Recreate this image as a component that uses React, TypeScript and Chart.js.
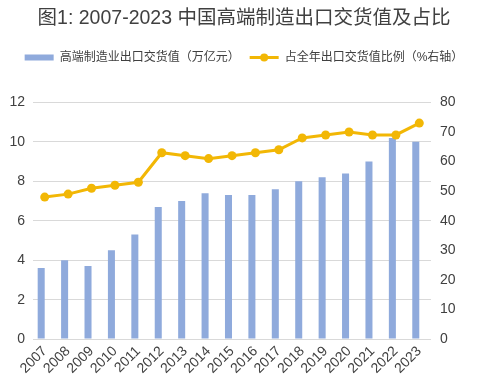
import React, { useEffect, useRef } from "react";
import { Chart, registerables } from "chart.js";

Chart.register(...registerables);

const years = ["2007","2008","2009","2010","2011","2012","2013","2014","2015","2016","2017","2018","2019","2020","2021","2022","2023"];
const exportValue = [3.6, 4.0, 3.7, 4.5, 5.3, 6.7, 7.0, 7.4, 7.3, 7.3, 7.6, 8.0, 8.2, 8.4, 9.0, 10.2, 10.0];
const exportShare = [48, 49, 51, 52, 53, 63, 62, 61, 62, 63, 64, 68, 69, 70, 69, 69, 73];
const emptySlot = years.map(() => null);
const leftTicks = [0, 2, 4, 6, 8, 10, 12];
const rightTicks = [0, 10, 20, 30, 40, 50, 60, 70, 80];

const titleText = "图1: 2007-2023 中国高端制造出口交货值及占比";
const barLabel = "高端制造业出口交货值（万亿元）";
const lineLabel = "占全年出口交货值比例（%右轴）";

const BAR_COLOR = "#8FAADC";
const LINE_COLOR = "#F2B705";
const FONT = "'Liberation Sans', 'Noto Sans CJK SC', sans-serif";

const legendMargin = {
  id: "legendMargin",
  beforeInit(chart: any) {
    const orig = chart.legend.fit;
    chart.legend.fit = function fit() {
      orig.bind(chart.legend)();
      this.height += 29;
    };
  },
};

const legendMarker = {
  id: "legendMarker",
  afterDraw(chart: any) {
    const lg = chart.legend;
    if (!lg || !lg.legendHitBoxes || lg.legendHitBoxes.length < 2) return;
    const hb = lg.legendHitBoxes[1];
    const ctx = chart.ctx;
    ctx.save();
    ctx.fillStyle = LINE_COLOR;
    ctx.beginPath();
    ctx.arc(hb.left + 29 / 2, hb.top + hb.height / 2, 4, 0, Math.PI * 2);
    ctx.fill();
    ctx.restore();
  },
};

export default function App() {
  const ref = useRef<HTMLCanvasElement>(null);
  useEffect(() => {
    if (!ref.current) return;
    const chart = new Chart(ref.current, {
      type: "bar",
      data: {
        labels: years,
        datasets: [
          {
            type: "bar",
            label: "spacer",
            data: emptySlot as any,
            backgroundColor: "rgba(0,0,0,0)",
            yAxisID: "y",
            order: 2,
            barPercentage: 1,
            categoryPercentage: 0.6,
          },
          {
            type: "bar",
            label: barLabel,
            data: exportValue,
            backgroundColor: BAR_COLOR,
            yAxisID: "y",
            order: 1,
            barPercentage: 1,
            categoryPercentage: 0.6,
          },
          {
            type: "line",
            label: lineLabel,
            data: exportShare,
            borderColor: LINE_COLOR,
            backgroundColor: LINE_COLOR,
            borderWidth: 3,
            pointRadius: 4.5,
            pointBackgroundColor: LINE_COLOR,
            pointBorderColor: LINE_COLOR,
            pointBorderWidth: 0,
            tension: 0,
            yAxisID: "y1",
            order: 0,
          } as any,
        ],
      },
      options: {
        responsive: false,
        animation: false,
        layout: { padding: { left: 10, right: 0, top: 0, bottom: 0 } },
        plugins: {
          tooltip: { enabled: false },
          title: {
            display: true,
            text: titleText,
            color: "#404040",
            font: { family: FONT, size: 19.5, weight: "normal" },
            padding: { top: 7, bottom: 11 },
          },
          legend: {
            display: true,
            position: "top",
            labels: {
              font: { family: FONT, size: 12 },
              color: "#404040",
              usePointStyle: true,
              pointStyleWidth: 29,
              boxHeight: 6,
              padding: 10,
              generateLabels: () => [
                {
                  text: barLabel,
                  fillStyle: BAR_COLOR,
                  strokeStyle: BAR_COLOR,
                  lineWidth: 0,
                  pointStyle: "rect",
                  hidden: false,
                  datasetIndex: 1,
                  fontColor: "#404040",
                } as any,
                {
                  text: lineLabel,
                  fillStyle: LINE_COLOR,
                  strokeStyle: LINE_COLOR,
                  lineWidth: 3,
                  pointStyle: "line",
                  hidden: false,
                  datasetIndex: 2,
                  fontColor: "#404040",
                } as any,
              ],
            },
          },
        },
        scales: {
          x: {
            grid: { display: false, drawTicks: false },
            border: { display: false },
            ticks: {
              color: "#404040",
              font: { family: FONT, size: 14 },
              maxRotation: 45,
              minRotation: 45,
              padding: 4,
              autoSkip: false,
            },
          },
          y: {
            position: "left",
            min: 0,
            max: 12,
            afterBuildTicks: (axis: any) => {
              axis.ticks = leftTicks.map((v) => ({ value: v }));
            },
            afterFit: (axis: any) => {
              axis.width = 23;
            },
            grid: { color: "#D9D9D9", lineWidth: 1, drawTicks: false },
            border: { display: false },
            ticks: {
              color: "#404040",
              font: { family: FONT, size: 14 },
              padding: 8,
            },
          },
          y1: {
            position: "right",
            min: 0,
            max: 80,
            afterBuildTicks: (axis: any) => {
              axis.ticks = rightTicks.map((v) => ({ value: v }));
            },
            afterFit: (axis: any) => {
              axis.width = 47;
            },
            grid: { display: false, drawTicks: false },
            border: { display: false },
            ticks: {
              color: "#404040",
              font: { family: FONT, size: 14 },
              padding: 9,
            },
          },
        },
      },
      plugins: [legendMargin, legendMarker],
    });
    return () => chart.destroy();
  }, []);
  return (
    <div style={{ position: "absolute", left: 0, top: 0, width: 478, height: 381, background: "#fff" }}>
      <canvas ref={ref} width={478} height={381} style={{ display: "block" }} />
    </div>
  );
}
